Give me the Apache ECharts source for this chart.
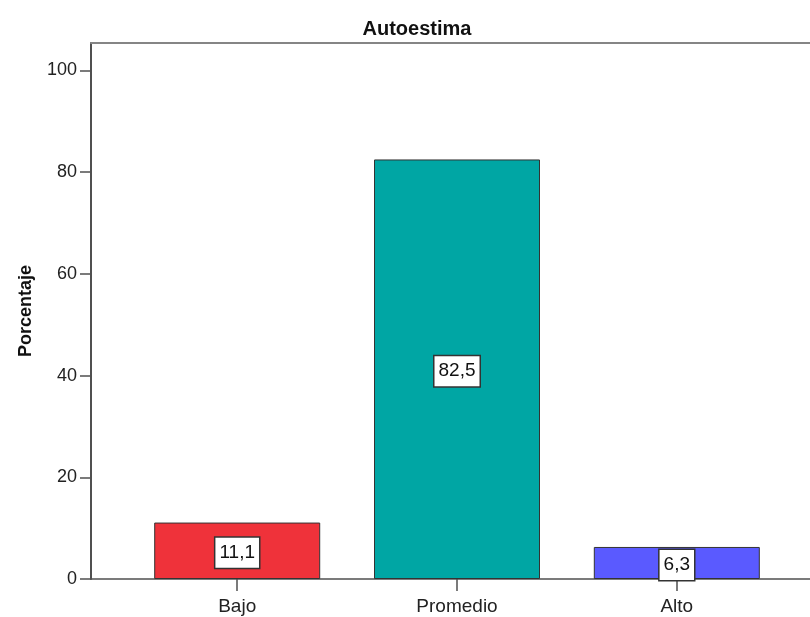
<!DOCTYPE html>
<html>
<head>
<meta charset="utf-8">
<script src="https://cdn.jsdelivr.net/npm/echarts@6/dist/echarts.min.js"></script>
<style>
  html, body { margin: 0; padding: 0; background: #fff; }
  #chart { width: 810px; height: 617px; }
</style>
</head>
<body>
<div id="chart"></div>
<script>
// Autoestima: percentage per level
const categories = ['Bajo', 'Promedio', 'Alto'];
const percentages = [11.1, 82.5, 6.3];
const barColors = ['#EF323A', '#00A6A4', '#5A5AFF'];
const yTickValues = [0, 20, 40, 60, 80, 100];

const FONT = '"Liberation Sans", Arial, sans-serif';
const fmt = v => String(v).replace('.', ',');

const chart = echarts.init(document.getElementById('chart'), null, { renderer: 'canvas' });

chart.setOption({
  backgroundColor: '#ffffff',
  animation: false,
  title: {
    text: 'Autoestima',
    left: 412,
    top: 14,
    textAlign: 'center',
    textStyle: { fontFamily: FONT, fontSize: 20, fontWeight: 'bold', color: '#111' }
  },
  grid: { left: 91, top: 43, right: 0, bottom: 38, containLabel: false },
  xAxis: [
    {
      type: 'value',
      min: -0.6652,
      max: 2.606,
      position: 'bottom',
      splitLine: { show: false },
      axisLine: { show: true, onZero: false, lineStyle: { color: '#505050', width: 1.5 } },
      axisTick: { show: true, length: 12, customValues: [0, 1, 2], lineStyle: { color: '#505050', width: 1.5 } },
      axisLabel: {
        customValues: [0, 1, 2],
        formatter: v => categories[Math.round(v)] || '',
        fontFamily: FONT, fontSize: 19, color: '#222', margin: 18
      }
    },
    {
      type: 'value',
      min: -0.6652,
      max: 2.606,
      position: 'top',
      splitLine: { show: false },
      axisLine: { show: true, onZero: false, lineStyle: { color: '#858585', width: 2 } },
      axisTick: { show: false },
      axisLabel: { show: false }
    }
  ],
  yAxis: {
    type: 'value',
    min: 0,
    max: 105.4,
    position: 'left',
    name: 'Porcentaje',
    nameLocation: 'middle',
    nameGap: 56,
    nameTextStyle: { fontFamily: FONT, fontSize: 18, fontWeight: 'bold', color: '#111' },
    splitLine: { show: false },
    axisLine: { show: true, onZero: false, lineStyle: { color: '#505050', width: 2 } },
    axisTick: { show: true, length: 11, customValues: yTickValues, lineStyle: { color: '#505050', width: 1.5 } },
    axisLabel: {
      customValues: yTickValues,
      fontFamily: FONT, fontSize: 18, color: '#222', margin: 14
    }
  },
  series: [{
    type: 'bar',
    xAxisIndex: 0,
    barWidth: 166,
    data: percentages.map((v, i) => ({
      value: [i, v],
      itemStyle: { color: barColors[i], borderColor: '#333', borderWidth: 1 }
    })),
    label: {
      show: true,
      position: 'inside',
      offset: [0, 2],
      formatter: p => fmt(p.value[1]),
      fontFamily: FONT,
      fontSize: 19,
      color: '#111',
      backgroundColor: '#ffffff',
      borderColor: '#333',
      borderWidth: 1.5,
      padding: [6, 4, 5, 4]
    }
  }]
});
</script>
</body>
</html>
